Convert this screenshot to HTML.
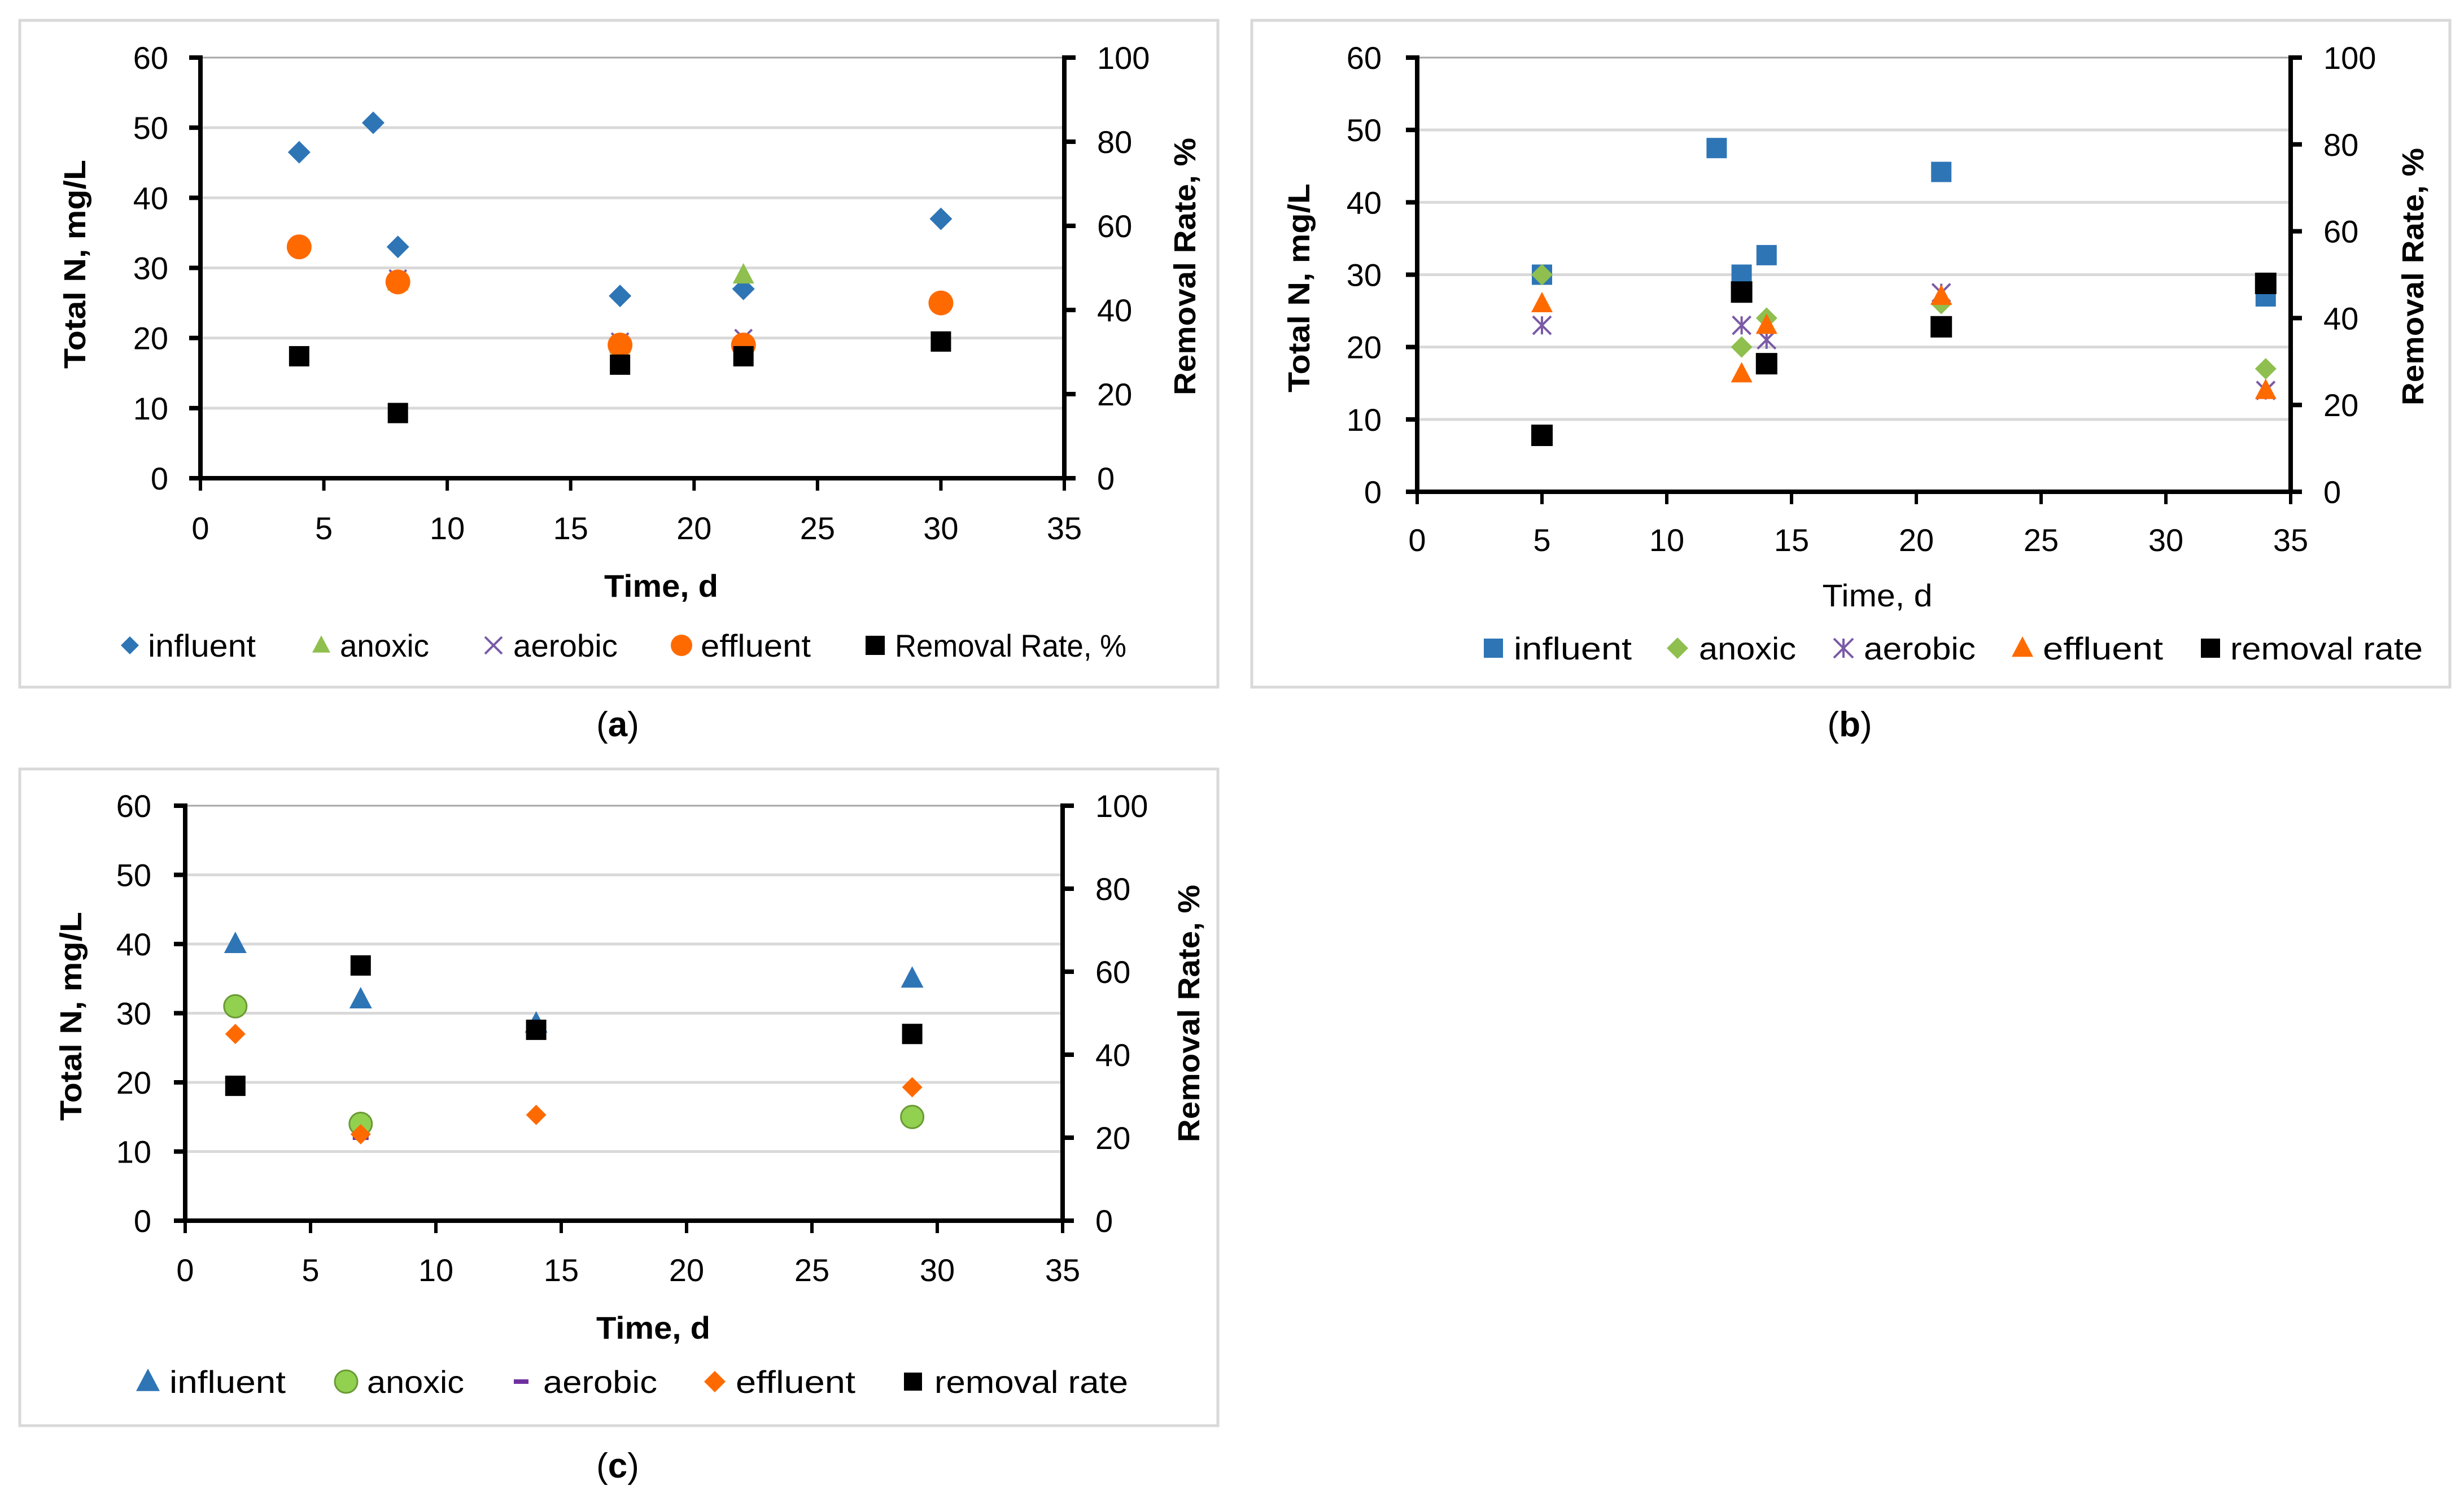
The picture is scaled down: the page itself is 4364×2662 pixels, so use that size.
<!DOCTYPE html>
<html><head><meta charset="utf-8"><style>
html,body{margin:0;padding:0;background:#fff;}
svg{display:block;}
text{font-family:"Liberation Sans",sans-serif;}
</style></head><body>
<svg id="fig" width="4364" height="2662" viewBox="0 0 4364 2662" xmlns="http://www.w3.org/2000/svg"></svg>
<script>
// Panel (a) data
const aInfluentX=[4,7,8,17,22,30];
const aInfluentY=[46.5,50.7,33,26,27,37];
const aAnoxicX=[8,17,22];
const aAnoxicY=[28,19,29];
const aAerobicX=[8,17,22];
const aAerobicY=[28.5,19.5,20];
const aEffluentX=[4,8,17,22,30];
const aEffluentY=[33,28,19,19,25];
const aRemovalX=[4,8,17,22,30];
const aRemovalY=[29,15.5,27,29,32.5];
// Panel (b) data
const bInfluentX=[5,12,13,14,21,34];
const bInfluentY=[30,47.5,30,32.7,44.2,27];
const bAnoxicX=[5,13,14,21,34];
const bAnoxicY=[30,20,24,26,17];
const bAerobicX=[5,13,14,21,34];
const bAerobicY=[23,23,21,27.5,14];
const bEffluentX=[5,13,14,21,34];
const bEffluentY=[26,16.3,23,27,14];
const bRemovalX=[5,13,14,21,34];
const bRemovalY=[13,46,29.5,38,48];
// Panel (c) data
const cInfluentX=[2,7,14,29];
const cInfluentY=[40,32,28.5,35];
const cAnoxicX=[2,7,29];
const cAnoxicY=[31,14,15];
const cAerobicX=[7];
const cAerobicY=[12];
const cEffluentX=[2,7,14,29];
const cEffluentY=[27,12.5,15.3,19.3];
const cRemovalX=[2,7,14,29];
const cRemovalY=[32.5,61.5,46,45];
// ticks
const xTicks=[0,5,10,15,20,25,30,35];
const yLeftTicks=[0,10,20,30,40,50,60];
const yRightTicks=[0,20,40,60,80,100];

const NS="http://www.w3.org/2000/svg";
const svg=document.getElementById('fig');
function el(tag,attrs,parent,txt){const e=document.createElementNS(NS,tag);for(const k in attrs)e.setAttribute(k,attrs[k]);if(txt!==undefined)e.textContent=txt;(parent||svg).appendChild(e);return e;}

const BLUE="#2e75b6",GREEN="#8fbf4e",PURPLE="#7a5aa6",ORANGE="#ff6a00",BLACK="#000";

function marker(g,type,cx,cy,color,s){
  let e;
  if(type==='diamond'){e=el('polygon',{points:`${cx},${cy-s/2} ${cx+s/2},${cy} ${cx},${cy+s/2} ${cx-s/2},${cy}`,fill:color},g);}
  else if(type==='square'){e=el('rect',{x:cx-s/2,y:cy-s/2,width:s,height:s,fill:color},g);}
  else if(type==='circle'){e=el('circle',{cx:cx,cy:cy,r:s/2,fill:color},g);}
  else if(type==='triangle'){e=el('polygon',{points:`${cx},${cy-s*0.55} ${cx+s/2},${cy+s*0.4} ${cx-s/2},${cy+s*0.4}`,fill:color},g);}
  else if(type==='circleg'){e=el('circle',{cx:cx,cy:cy,r:s/2,fill:color,stroke:'#6a9a35','stroke-width':3},g);}
  else if(type==='x'){e=el('path',{d:`M${cx-s/2} ${cy-s/2}L${cx+s/2} ${cy+s/2}M${cx+s/2} ${cy-s/2}L${cx-s/2} ${cy+s/2}`,stroke:color,'stroke-width':4,fill:'none'},g);}
  else if(type==='star'){e=el('path',{d:`M${cx-s/2} ${cy-s/2}L${cx+s/2} ${cy+s/2}M${cx+s/2} ${cy-s/2}L${cx-s/2} ${cy+s/2}M${cx} ${cy-s/2}L${cx} ${cy+s/2}`,stroke:color,'stroke-width':4,fill:'none'},g);}
  else if(type==='dash'){e=el('rect',{x:cx-s/2,y:cy-4,width:s,height:8,fill:color},g);}
  return e;
}

function panel(cfg){
  const g=el('g',{},svg);
  
  
  const fr=el('rect',{x:cfg.box[0],y:cfg.box[1],width:cfg.box[2]-cfg.box[0],height:cfg.box[3]-cfg.box[1],fill:'#fff',stroke:'#d9d9d9','stroke-width':5},g);
  
  
  const {x0,x1,y0,y1}=cfg;
  const sx=v=>x0+(x1-x0)*v/35;
  const sy=v=>y0-(y0-y1)*v/60;
  const sr=v=>y0-(y0-y1)*v/100;
  yLeftTicks.forEach(t=>{
    if(t>0){const gl=el('line',{x1:x0,x2:x1,y1:sy(t),y2:sy(t),stroke:t===60?'#a6a6a6':'#d9d9d9','stroke-width':t===60?3:5},g);
      }
    el('line',{x1:x0-20,x2:x0,y1:sy(t),y2:sy(t),stroke:'#000','stroke-width':8},g);
    const tl=el('text',{x:cfg.tickR,y:sy(t)+20,'text-anchor':'end','font-size':56,fill:'#000'},g,String(t));
    
  });
  yRightTicks.forEach(t=>{
    el('line',{x1:x1,x2:x1+20,y1:sr(t),y2:sr(t),stroke:'#000','stroke-width':8},g);
    const tl=el('text',{x:x1+58,y:sr(t)+20,'text-anchor':'start','font-size':56,fill:'#000'},g,String(t));
    
  });
  xTicks.forEach(t=>{
    el('line',{x1:sx(t),x2:sx(t),y1:y0,y2:y0+22,stroke:'#000','stroke-width':6},g);
    const tl=el('text',{x:sx(t),y:cfg.xTickY+20,'text-anchor':'middle','font-size':56,fill:'#000'},g,String(t));
    
  });
  const la=el('line',{x1:x0,x2:x0,y1:y1-4,y2:y0+4,stroke:'#000','stroke-width':8},g);
  
  const ra=el('line',{x1:x1,x2:x1,y1:y1-4,y2:y0+4,stroke:'#000','stroke-width':8},g);
  
  const xa=el('line',{x1:x0-20,x2:x1+20,y1:y0,y2:y0,stroke:'#000','stroke-width':8},g);
  
  const xt=el('text',{x:cfg.xTitle[0],y:cfg.xTitle[1]+20,'text-anchor':'middle','font-size':56,'font-weight':cfg.xBold?'bold':'normal',fill:'#000',textLength:cfg.xTitleW,lengthAdjust:'spacingAndGlyphs'},g,'Time, d');
  
  const yt=el('text',{x:0,y:0,'text-anchor':'middle','font-size':54,'font-weight':'bold',fill:'#000',textLength:370,lengthAdjust:'spacingAndGlyphs',transform:`translate(${cfg.yTitleX+19},${cfg.yTitleC}) rotate(-90)`},g,'Total N, mg/L');
  
  const rt=el('text',{x:0,y:0,'text-anchor':'middle','font-size':54,'font-weight':'bold',fill:'#000',textLength:456,lengthAdjust:'spacingAndGlyphs',transform:`translate(${cfg.rTitleX+19},${cfg.rTitleC}) rotate(-90)`},g,'Removal Rate, %');
  
  cfg.series.forEach(s=>{
    const sg=el('g',{},g);
    
    
    s.xs.forEach((xv,i)=>{
      const cy=s.right?sr(s.ys[i]):sy(s.ys[i]);
      const m=marker(sg,s.type,sx(xv),cy,s.color,s.size);
      
      
    });
  });
  cfg.legend.forEach((L,i)=>{
    const s=cfg.series[i];
    const lg=el('g',{},g);
    
    
    marker(lg,s.type,L[0],cfg.legY,s.color,s.legSize||32);
    el('text',{x:L[1],y:cfg.legY+20,'font-size':56,fill:'#000',textLength:L[2],lengthAdjust:'spacingAndGlyphs'},lg,s.label);
  });
  const pl=el('text',{x:cfg.label[0],y:cfg.label[1]+20,'text-anchor':'middle','font-size':62,'font-family':'"Liberation Serif",serif',fill:'#000'},g);
  
  pl.innerHTML='(<tspan font-weight="bold">'+cfg.letter+'</tspan>)';
}

panel({name:'chart-a',letter:'a',box:[35,36,2157,1217],x0:355,x1:1885,y0:847,y1:102,tickR:298,xTickY:935,
  xTitle:[1171,1037],xTitleW:202,xBold:true,yTitleX:132,yTitleC:468,rTitleX:2098,rTitleC:472,legY:1143,label:[1094,1284],
  series:[
    {key:'influent',label:'influent',type:'diamond',color:BLUE,size:40,xs:aInfluentX,ys:aInfluentY,legSize:32},
    {key:'anoxic',label:'anoxic',type:'triangle',color:GREEN,size:38,xs:aAnoxicX,ys:aAnoxicY,legSize:32},
    {key:'aerobic',label:'aerobic',type:'x',color:PURPLE,size:30,xs:aAerobicX,ys:aAerobicY,legSize:30},
    {key:'effluent',label:'effluent',type:'circle',color:ORANGE,size:44,xs:aEffluentX,ys:aEffluentY,legSize:38},
    {key:'removal-rate',label:'Removal Rate, %',type:'square',color:BLACK,size:36,xs:aRemovalX,ys:aRemovalY,right:true,legSize:34}
  ],
  legend:[[230,262,191],[569,602,158],[874,909,185],[1207,1241,195],[1550,1585,410]]});

panel({name:'chart-b',letter:'b',box:[2217,36,4339,1217],x0:2510,x1:4057,y0:871,y1:102,tickR:2447,xTickY:956,
  xTitle:[3325,1054],xTitleW:195,xBold:false,yTitleX:2300,yTitleC:510,rTitleX:4273,rTitleC:490,legY:1148,label:[3276,1284],
  series:[
    {key:'influent',label:'influent',type:'square',color:BLUE,size:36,xs:bInfluentX,ys:bInfluentY,legSize:34},
    {key:'anoxic',label:'anoxic',type:'diamond',color:GREEN,size:38,xs:bAnoxicX,ys:bAnoxicY,legSize:38},
    {key:'aerobic',label:'aerobic',type:'star',color:PURPLE,size:32,xs:bAerobicX,ys:bAerobicY,legSize:34},
    {key:'effluent',label:'effluent',type:'triangle',color:ORANGE,size:38,xs:bEffluentX,ys:bEffluentY,legSize:38},
    {key:'removal-rate',label:'removal rate',type:'square',color:BLACK,size:38,xs:bRemovalX,ys:bRemovalY,right:true,legSize:34}
  ],
  legend:[[2645,2681,209],[2971,3009,172],[3265,3301,198],[3582,3618,213],[3915,3950,341]]});

panel({name:'chart-c',letter:'c',box:[35,1362,2157,2525],x0:328,x1:1882,y0:2162,y1:1427,tickR:268,xTickY:2249,
  xTitle:[1157,2351],xTitleW:202,xBold:true,yTitleX:125,yTitleC:1800,rTitleX:2105,rTitleC:1795,legY:2447,label:[1094,2597],
  series:[
    {key:'influent',label:'influent',type:'triangle',color:BLUE,size:40,xs:cInfluentX,ys:cInfluentY,legSize:42},
    {key:'anoxic',label:'anoxic',type:'circleg',color:'#92d050',size:40,xs:cAnoxicX,ys:cAnoxicY,legSize:40},
    {key:'aerobic',label:'aerobic',type:'dash',color:'#7030a0',size:28,xs:cAerobicX,ys:cAerobicY,legSize:26},
    {key:'effluent',label:'effluent',type:'diamond',color:ORANGE,size:36,xs:cEffluentX,ys:cEffluentY,legSize:38},
    {key:'removal-rate',label:'removal rate',type:'square',color:BLACK,size:36,xs:cRemovalX,ys:cRemovalY,right:true,legSize:32}
  ],
  legend:[[262,300,206],[613,650,172],[923,962,202],[1266,1303,212],[1617,1655,343]]});
</script>
</body></html>
